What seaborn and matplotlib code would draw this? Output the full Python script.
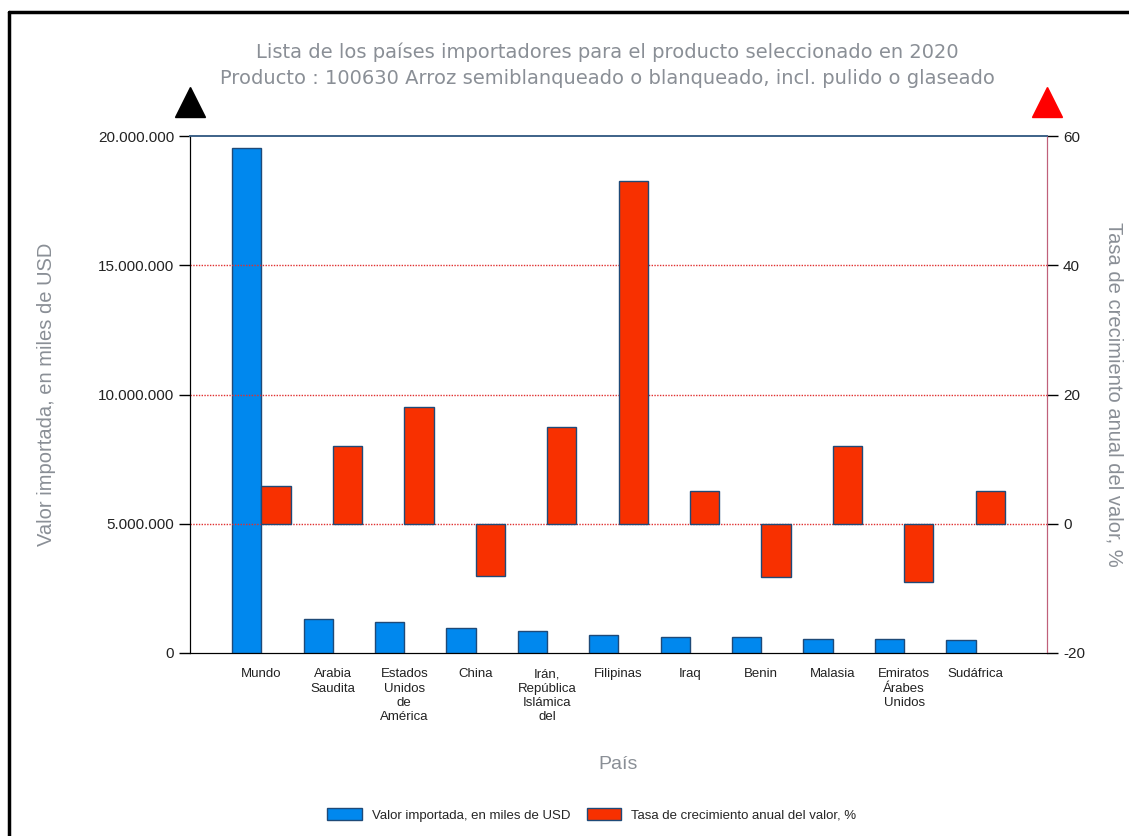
import numpy as np
import matplotlib
matplotlib.use("Agg")
import matplotlib.pyplot as plt
import matplotlib.ticker as mticker
from matplotlib.patches import Patch
from matplotlib.lines import Line2D
import seaborn as sns

# Datos
paises = ["Mundo", "Arabia\nSaudita", "Estados\nUnidos\nde\nAmérica", "China",
          "Irán,\nRepública\nIslámica\ndel", "Filipinas", "Iraq", "Benin",
          "Malasia", "Emiratos\nÁrabes\nUnidos", "Sudáfrica"]
valor_importado = [19540000, 1310000, 1210000, 980000, 870000, 710000,
                   600000, 600000, 550000, 550000, 490000]
tasa_crecimiento = [5.9, 12.0, 18.0, -8.1, 14.9, 53.0, 5.0, -8.2, 12.0, -9.0, 5.0]

titulo = ("Lista de los países importadores para el producto seleccionado en 2020\n"
          "Producto : 100630 Arroz semiblanqueado o blanqueado, incl. pulido o glaseado")

sns.set_style("white")
plt.rcParams["font.family"] = ["Liberation Sans", "DejaVu Sans"]
plt.rcParams["axes.unicode_minus"] = False

GRIS = "#8a8f96"
AZUL = "#0088ee"
ROJO = "#f83000"
BORDE = "#1f4a78"

fig = plt.figure(figsize=(11.29, 8.36), dpi=100)
ax = fig.add_axes([190 / 1129, 1 - 653 / 836, (1047 - 190) / 1129, (653 - 136) / 836])
ax2 = ax.twinx()

pos = np.arange(1, len(paises) + 1)

sns.barplot(x=pos - 0.205, y=valor_importado, native_scale=True, width=0.41,
            color=AZUL, edgecolor=BORDE, linewidth=1, saturation=1, ax=ax, zorder=3)
sns.barplot(x=pos + 0.205, y=tasa_crecimiento, native_scale=True, width=0.41,
            color=ROJO, edgecolor=BORDE, linewidth=1, saturation=1, ax=ax2, zorder=3)

ax.set_xlim(0, 12)
ax2.set_xlim(0, 12)
ax.set_ylim(0, 20000000)
ax2.set_ylim(-20, 60)

ax.set_yticks([0, 5000000, 10000000, 15000000, 20000000])
ax.yaxis.set_major_formatter(mticker.FuncFormatter(lambda v, p: f"{int(v):,}".replace(",", ".")))
ax2.set_yticks([-20, 0, 20, 40, 60])
ax.set_xticks(pos)
ax.set_xticklabels(paises, fontsize=9.5, color="#222222", linespacing=1.25, va="top")

# lineas de cuadricula punteadas rojas
for v in [0, 20, 40]:
    ax2.axhline(v, color="#e03030", linestyle=(0, (1, 1)), linewidth=1, zorder=1)

ax.tick_params(axis="y", length=8, width=1, color="black", labelsize=11, labelcolor="#222222", left=True)
ax.tick_params(axis="x", length=0, pad=11)
ax2.tick_params(axis="y", length=8, width=1, color="black", labelsize=11, labelcolor="#222222", right=True)

for a in (ax, ax2):
    a.spines["left"].set_color("black")
    a.spines["bottom"].set_color("black")
    a.spines["top"].set_color("#3d6288")
    a.spines["top"].set_linewidth(1.2)
    a.spines["right"].set_color("#c0607a")

ax.set_xlabel("País", fontsize=14, color=GRIS, labelpad=24)
ax.set_ylabel("Valor importada, en miles de USD", fontsize=14.5, color=GRIS, labelpad=30)
ax2.set_ylabel("Tasa de crecimiento anual del valor, %", fontsize=14.5, color=GRIS,
               rotation=-90, labelpad=28)

# flechas en la parte superior de los ejes
ax.plot([0], [1.065], marker="^", markersize=22, color="black", transform=ax.transAxes,
        clip_on=False)
ax.plot([1], [1.065], marker="^", markersize=22, color="#ff0000", transform=ax.transAxes,
        clip_on=False)

fig.text(607 / 1129, 1 - 65 / 836, titulo, ha="center", va="center", fontsize=14,
         color=GRIS, linespacing=1.45, family=["DejaVu Sans"])

handles = [Patch(facecolor=AZUL, edgecolor=BORDE, label="Valor importada, en miles de USD"),
           Patch(facecolor=ROJO, edgecolor=BORDE, label="Tasa de crecimiento anual del valor, %")]
fig.legend(handles=handles, loc="center", bbox_to_anchor=(592 / 1129, 1 - 815 / 836), ncol=2,
           frameon=False, fontsize=9.5, handlelength=2.6, handleheight=1.0, columnspacing=1.2)

# marco de la imagen
fig.add_artist(Line2D([9 / 1129, 9 / 1129], [0, 1 - 12 / 836], color="black", linewidth=2.5))
fig.add_artist(Line2D([9 / 1129, 1], [1 - 12 / 836, 1 - 12 / 836], color="black", linewidth=2.5))

fig.savefig("out.png", dpi=100)
